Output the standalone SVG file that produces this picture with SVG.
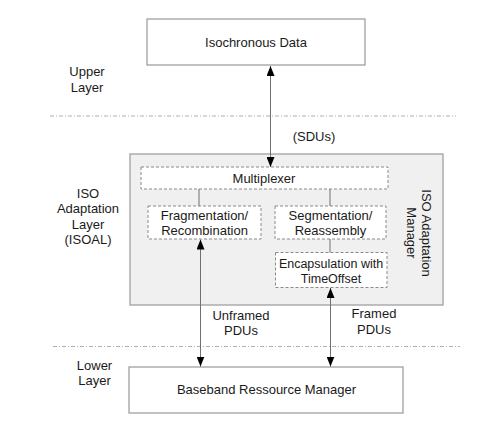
<svg xmlns="http://www.w3.org/2000/svg" width="500" height="426" viewBox="0 0 500 426">
<style>
text{font-family:"Liberation Sans",Arial,sans-serif;font-size:13px;fill:#1a1a1a;text-anchor:middle}
.box{fill:#fff;stroke:#a0a0a0;stroke-width:1.3}
.dbox{fill:#fff;stroke:#8a8a8a;stroke-width:1;stroke-dasharray:3,2}
.sep{stroke:#b0b0b0;stroke-width:1;stroke-dasharray:4,2,1,2;fill:none}
.con{stroke:#707070;stroke-width:1;fill:none}
.arr{stroke:#707070;stroke-width:1;fill:none;marker-start:url(#ah);marker-end:url(#ah)}
</style>
<defs>
<marker id="ah" viewBox="0 0 10 8" refX="10" refY="4" markerWidth="10" markerHeight="8" markerUnits="userSpaceOnUse" orient="auto-start-reverse">
<path d="M0,0 L10,4 L0,8 z" fill="#000"/>
</marker>
</defs>
<rect width="500" height="426" fill="#fff"/>
<g id="separators">
<line class="sep" x1="50" y1="116" x2="456" y2="116"/>
<line class="sep" x1="53" y1="346.5" x2="460" y2="346.5"/>
</g>
<g id="layer-labels">
<text x="87" y="75.5">Upper</text>
<text x="87" y="91.5">Layer</text>
<text x="88" y="197.5">ISO</text>
<text x="88" y="213">Adaptation</text>
<text x="88" y="228.5">Layer</text>
<text x="88" y="244">(ISOAL)</text>
<text x="94.5" y="369.5">Lower</text>
<text x="94.5" y="385">Layer</text>
</g>
<g id="isochronous-data">
<rect class="box" x="147" y="19" width="218" height="46"/>
<text x="256" y="46.5">Isochronous Data</text>
</g>
<g id="isoal">
<rect x="130" y="154" width="313" height="151" fill="#f0f0f0" stroke="#a0a0a0" stroke-width="1.3"/>
<text transform="translate(421.5,233) rotate(90)">ISO Adaptation</text>
<text transform="translate(406.5,233) rotate(90)">Manager</text>
</g>
<g id="multiplexer">
<rect class="dbox" x="141" y="167" width="247" height="22"/>
<text x="264" y="182.5">Multiplexer</text>
</g>
<g id="fragmentation">
<rect class="dbox" x="148" y="206" width="113" height="33"/>
<text x="204.5" y="219.5">Fragmentation/</text>
<text x="204.5" y="234.5">Recombination</text>
</g>
<g id="segmentation">
<rect class="dbox" x="275" y="206" width="111" height="33"/>
<text x="330.5" y="219.5">Segmentation/</text>
<text x="330.5" y="234.5">Reassembly</text>
</g>
<g id="encapsulation">
<rect class="dbox" x="275.5" y="252.5" width="111.5" height="35"/>
<text x="331" y="267.5" style="font-size:12.5px">Encapsulation with</text>
<text x="331" y="282.5" style="font-size:12.5px">TimeOffset</text>
</g>
<g id="baseband">
<rect class="box" x="129" y="367" width="274" height="46"/>
<text x="266.5" y="394">Baseband Ressource Manager</text>
</g>
<g id="connectors">
<line class="arr" x1="270.5" y1="66" x2="270.5" y2="167"/>
<line class="con" x1="199" y1="189" x2="199" y2="206"/>
<line class="con" x1="330" y1="189" x2="330" y2="206"/>
<line class="con" x1="330" y1="239" x2="330" y2="252.5"/>
<line class="arr" x1="200.5" y1="239.5" x2="200.5" y2="366.5"/>
<line class="arr" x1="330.5" y1="288" x2="330.5" y2="366.5"/>
</g>
<g id="connector-labels">
<text x="314" y="140.5">(SDUs)</text>
<text x="241" y="319.5">Unframed</text>
<text x="241" y="334.5">PDUs</text>
<text x="374" y="317.5">Framed</text>
<text x="374" y="333.5">PDUs</text>
</g>
</svg>
